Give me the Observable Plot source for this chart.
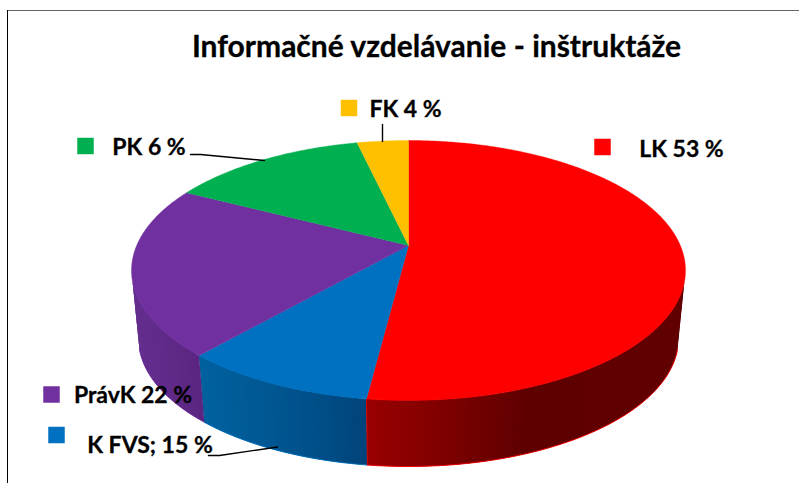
<!DOCTYPE html>
<html lang="sk">
<head>
<meta charset="utf-8">
<script src="https://cdn.jsdelivr.net/npm/d3@7"></script>
<script src="https://cdn.jsdelivr.net/npm/@observablehq/plot@0.6"></script>
<style>
html,body{margin:0;padding:0;background:#fff}
svg{display:block}
</style>
</head>
<body>
<div id="chart"></div>
<script>
// Data, clockwise from 12 o'clock
const categories = ["LK", "K FVS", "PrávK", "PK", "FK"];
const labels = ["LK 53 %", "K FVS; 15 %", "PrávK 22 %", "PK 6 %", "FK 4 %"];
const drawnShares = [52.0, 9.45, 21.15, 13.8, 3.6]; // slice sizes
const colors = ["#ff0000", "#0070c0", "#7030a0", "#00b050", "#ffc000"];
const title = "Informačné vzdelávanie - inštruktáže";

// Layout of the tilted pie
const top3d = {cx: 408, cy: 270, rx: 277, ry: 130};
const bottom3d = {cx: 408, cy: 338, rx: 270, ry: 128};
const apex = {x: 408, y: 245};
const k = (top3d.cy - apex.y) / top3d.ry;
const persp = Math.sqrt((1 - k) / (1 + k));
const rad = Math.PI / 180;
const warp = (a) => 2 * Math.atan2(persp * Math.sin(a * rad / 2), Math.cos(a * rad / 2)) / rad;
const warpU = (a) => { const t = warp(a); return t < 0 ? t + 360 : t; };
const pt = (e, t) => ({x: e.cx + e.rx * Math.sin(t * rad), y: e.cy - e.ry * Math.cos(t * rad)});

let acc = 0;
const slices = categories.map((c, i) => {
  const a0 = acc * 3.6; acc += drawnShares[i];
  const a1 = acc * 3.6;
  return {c, color: colors[i], t0: warpU(a0), t1: a1 >= 359.9 ? 360 : warpU(a1)};
});

// Top face
const facePts = [];
for (const s of slices) {
  facePts.push({...apex, key: s.c, color: s.color});
  for (let t = s.t0; t < s.t1; t += 0.5) facePts.push({...pt(top3d, t), key: s.c, color: s.color});
  facePts.push({...pt(top3d, s.t1), key: s.c, color: s.color});
  facePts.push({...apex, key: s.c, color: s.color});
}

// Side wall, shaded in narrow overlapping bands
const shade = {
  "LK": d3.scaleLinear([368, 445, 530, 684], ["#990000", "#7f0000", "#5e0000", "#620000"]),
  "K FVS": d3.scaleLinear([205, 300, 368], ["#00619f", "#00528c", "#00447a"]),
  "PrávK": d3.scaleLinear([135, 205], ["#642e8e", "#5a2580"])
};
const vis0 = 95, vis1 = 265, step = 1;
const sidePts = [], rim = [];
for (const s of slices) {
  const from = Math.max(s.t0, vis0), to = Math.min(s.t1, vis1);
  if (to <= from) continue;
  for (let t = from; t < to; t += step) {
    const t2 = Math.min(t + 3 * step, to);
    const a = pt(top3d, t), b = pt(top3d, t2), c = pt(bottom3d, t2), d = pt(bottom3d, t);
    const col = shade[s.c](a.x);
    for (const p of [a, b, c, d, a]) sidePts.push({...p, key: s.c + t, color: col});
    rim.push({...d, key: s.c, color: s.color});
    if (t + step >= to) rim.push({...pt(bottom3d, to), key: s.c, color: s.color});
  }
}
const edge = slices.filter(s => s.c === "LK").flatMap(s => [
  {...pt(top3d, s.t1), key: "e"}, {...pt(bottom3d, s.t1), key: "e"}
]);

// Label placement
const labelAt = [[681, 149], [149.5, 445], [132.5, 395], [148.5, 147], [405, 109]];
const keyAt = [[602, 146.5], [56, 434.5], [51, 394], [85, 145.5], [348.5, 107.5]];
const labelRows = labels.map((text, i) => ({text, x: labelAt[i][0], y: labelAt[i][1]}));
const keyRows = colors.map((color, i) => ({color, x: keyAt[i][0], y: keyAt[i][1]}));
const leaders = [
  {key: "pk", x: 190, y: 154}, {key: "pk", x: 200, y: 154}, {key: "pk", x: 264, y: 160},
  {key: "fk", x: 382, y: 124}, {key: "fk", x: 382, y: 141},
  {key: "fvs", x: 208, y: 455}, {key: "fvs", x: 219, y: 455}, {key: "fvs", x: 277, y: 446.5}
];

const font = "Lato, Carlito, 'Open Sans', sans-serif";
const plot = Plot.plot({
  width: 799, height: 483, margin: 0,
  x: {domain: [0, 799], axis: null},
  y: {domain: [483, 0], axis: null},
  color: {type: "identity"},
  style: {background: "#fff", fontFamily: font},
  marks: [
    Plot.ruleY([10], {x1: 7, x2: 799, stroke: "#666", strokeWidth: 1}),
    Plot.ruleX([7], {y1: 10, y2: 483, stroke: "#000", strokeWidth: 1}),
    Plot.line(sidePts, {x: "x", y: "y", z: "key", fill: "color", stroke: "none", curve: "linear"}),
    Plot.line(rim, {x: "x", y: "y", z: "key", stroke: "color", strokeWidth: 0.9, curve: "linear"}),
    Plot.line(edge, {x: "x", y: "y", z: "key", stroke: "#e00000", strokeWidth: 0.9}),
    Plot.line(facePts, {x: "x", y: "y", z: "key", fill: "color", stroke: "color", strokeWidth: 0.4, curve: "linear"}),
    Plot.line(leaders, {x: "x", y: "y", z: "key", stroke: "#000", strokeWidth: 1.4, curve: "linear"}),
    Plot.dot(keyRows, {x: "x", y: "y", r: 9.3, symbol: "square", fill: "color", stroke: "none"}),
    Plot.text(labelRows, {x: "x", y: "y", text: "text", fill: "#000", stroke: "#000", strokeWidth: 0.3, fontSize: 23, fontWeight: 700, fontFamily: font, textAnchor: "middle", lineAnchor: "middle"}),
    Plot.text([title], {x: 436, y: 47, text: d => d, fill: "#000", stroke: "#000", strokeWidth: 0.3, fontSize: 30, fontWeight: 700, fontFamily: font, textAnchor: "middle", lineAnchor: "middle"})
  ]
});
document.getElementById("chart").append(plot);
</script>
</body>
</html>
